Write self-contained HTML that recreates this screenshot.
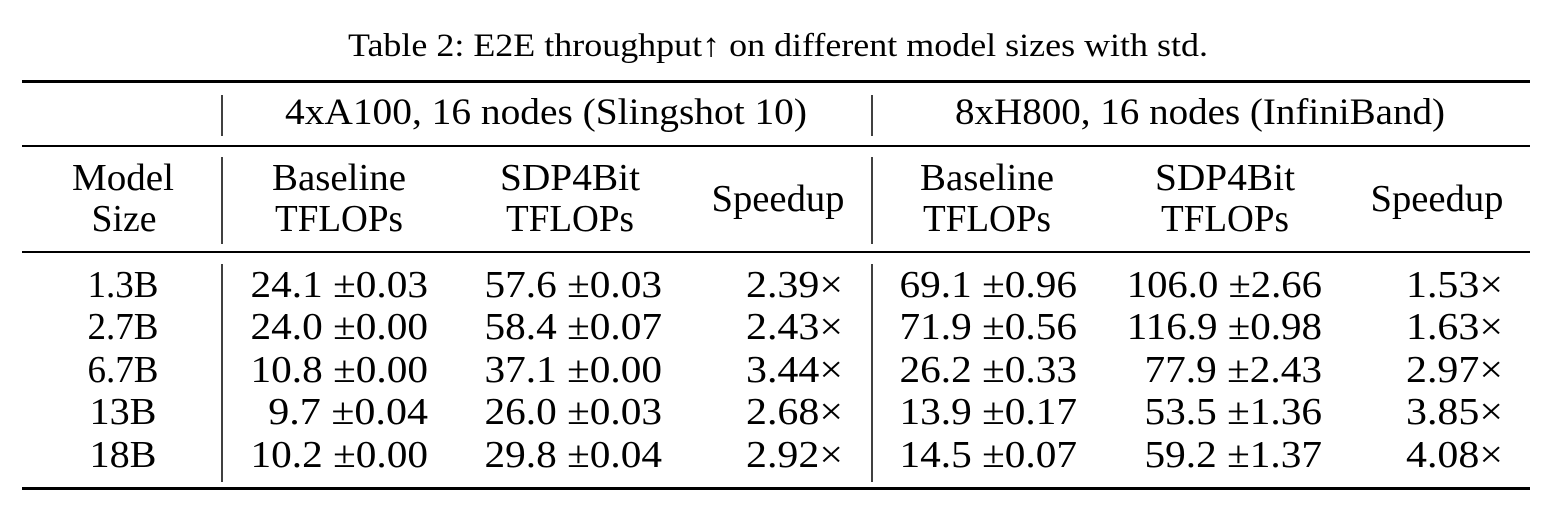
<!DOCTYPE html>
<html><head><meta charset="utf-8"><style>
html,body{margin:0;padding:0;background:#fff;width:1568px;height:513px;overflow:hidden}
svg text{font-family:"Liberation Serif",serif;fill:#000}
</style></head><body>
<svg width="1568" height="513">
<text x="778" y="56" font-size="33" text-anchor="middle" textLength="860" lengthAdjust="spacingAndGlyphs">Table 2: E2E throughput↑ on different model sizes with std.</text>
<rect x="22" y="80" width="1508" height="3" fill="#000"/>
<rect x="22" y="145" width="1508" height="2" fill="#000"/>
<rect x="22" y="251" width="1508" height="2" fill="#000"/>
<rect x="22" y="487" width="1508" height="3" fill="#000"/>
<g id="vbars"></g>
<text x="546" y="124" font-size="37" text-anchor="middle" textLength="522" lengthAdjust="spacingAndGlyphs">4xA100, 16 nodes (Slingshot 10)</text>
<text x="1200" y="124" font-size="37" text-anchor="middle" textLength="490" lengthAdjust="spacingAndGlyphs">8xH800, 16 nodes (InfiniBand)</text>
<g id="heads"></g>
<g id="body"></g>
</svg>
<script>
const models = ["1.3B","2.7B","6.7B","13B","18B"];
const a100Base = ["24.1 ±0.03","24.0 ±0.00","10.8 ±0.00","9.7 ±0.04","10.2 ±0.00"];
const a100Sdp = ["57.6 ±0.03","58.4 ±0.07","37.1 ±0.00","26.0 ±0.03","29.8 ±0.04"];
const a100Speed = ["2.39×","2.43×","3.44×","2.68×","2.92×"];
const h800Base = ["69.1 ±0.96","71.9 ±0.56","26.2 ±0.33","13.9 ±0.17","14.5 ±0.07"];
const h800Sdp = ["106.0 ±2.66","116.9 ±0.98","77.9 ±2.43","53.5 ±1.36","59.2 ±1.37"];
const h800Speed = ["1.53×","1.63×","2.97×","3.85×","4.08×"];
const NS="http://www.w3.org/2000/svg";
function t(parent,x,y,s,anchor,name,len){
  const e=document.createElementNS(NS,"text");
  e.setAttribute("x",x);e.setAttribute("y",y);e.setAttribute("font-size","38");
  e.setAttribute("text-anchor",anchor);
  if(len){e.setAttribute("textLength",len);e.setAttribute("lengthAdjust","spacingAndGlyphs");}
  
  
  e.textContent=s;parent.appendChild(e);
}
const vb=document.getElementById("vbars");
[[95,136],[157,244],[264,482]].forEach(([a,b])=>{
  [222,872].forEach(x=>{
    const r=document.createElementNS(NS,"rect");
    r.setAttribute("x",x-0.75);r.setAttribute("y",a);r.setAttribute("width",1.5);r.setAttribute("height",b-a);r.setAttribute("fill","#000");
    
    
    vb.appendChild(r);
  });
});
const h=document.getElementById("heads");
t(h,123,190,"Model","middle","model-header",102);
t(h,124,231,"Size","middle","model-header",65);
[[339,"Baseline","TFLOPs"],[570,"SDP4Bit","TFLOPs"],[987,"Baseline","TFLOPs"],[1225,"SDP4Bit","TFLOPs"]].forEach(([x,a,b])=>{
  t(h,x,190,a,"middle","column-header",a==="Baseline"?134:140);t(h,x,231,b,"middle","column-header",128);
});
t(h,778,211,"Speedup","middle","speedup-header",133);
t(h,1437,211,"Speedup","middle","speedup-header",133);
const bd=document.getElementById("body");
const ys=[297,339,382,424,467];
function w(s){return s.replace("×","").length*17.75+(s.includes("×")?26:0);}
models.forEach((m,i)=>{
  const y=ys[i];
  t(bd,123,y,m,"middle","model-size-cell",m.includes(".")?71:67);
  t(bd,428,y,a100Base[i],"end","a100-baseline-cell",w(a100Base[i]));
  t(bd,662,y,a100Sdp[i],"end","a100-sdp4bit-cell",w(a100Sdp[i]));
  t(bd,843,y,a100Speed[i],"end","a100-speedup-cell",w(a100Speed[i]));
  t(bd,1077,y,h800Base[i],"end","h800-baseline-cell",w(h800Base[i]));
  t(bd,1322,y,h800Sdp[i],"end","h800-sdp4bit-cell",w(h800Sdp[i]));
  t(bd,1503,y,h800Speed[i],"end","h800-speedup-cell",w(h800Speed[i]));
});
</script>
</body></html>
